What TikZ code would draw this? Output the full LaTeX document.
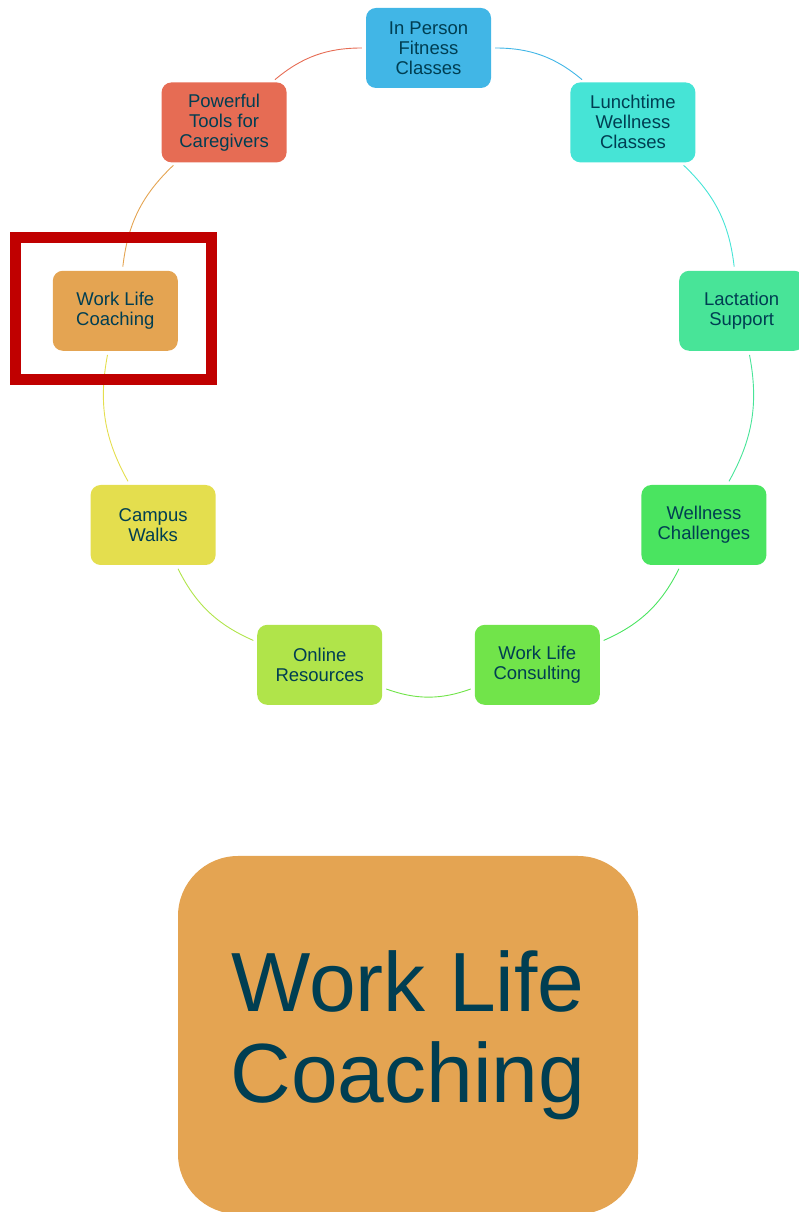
\documentclass[tikz,border=0pt]{standalone}
\usepackage{fontspec}
\setmainfont{Liberation Sans}
\usepackage{tikz}
\usetikzlibrary{arrows.meta,positioning}
\definecolor{cText}{RGB}{0,62,82}
\definecolor{cBlue}{RGB}{65,182,230}
\definecolor{cTurq}{RGB}{70,228,214}
\definecolor{cMint}{RGB}{72,228,152}
\definecolor{cGreen}{RGB}{74,228,96}
\definecolor{cLeaf}{RGB}{113,228,74}
\definecolor{cLime}{RGB}{176,228,74}
\definecolor{cYellow}{RGB}{228,222,78}
\definecolor{cOrange}{RGB}{228,164,82}
\definecolor{cRed}{RGB}{230,108,84}
\definecolor{cFrame}{RGB}{192,0,0}
\tikzset{
  item/.style={rounded corners=10pt, minimum width=125pt, minimum height=80pt, inner sep=2pt, align=center, text=cText, font=\fontsize{18.5}{20}\selectfont},
  link/.style={line width=0.9pt, shorten <=4pt, shorten >=4pt},
  bigitem/.style={rounded corners=60pt, minimum width=460pt, minimum height=358pt, align=center, text=cText, font=\fontsize{84}{91}\selectfont},
}

\begin{document}
\begin{tikzpicture}[x=1pt, y=1pt]
    \useasboundingbox (0,0) rectangle (799,1212);
    \coordinate (hub) at (428.5,846);

    \node[item, fill=cBlue] (fitness) at ([shift={(90:318)}]hub) {In Person\\Fitness\\Classes};
    \node[item, fill=cTurq] (lunch) at ([shift={(50:318)}]hub) {Lunchtime\\Wellness\\Classes};
    \node[item, fill=cMint] (lactation) at ([shift={(10:318)}]hub) {Lactation\\Support};
    \node[item, fill=cGreen] (challenges) at ([shift={(-30:318)}]hub) {Wellness\\Challenges};
    \node[item, fill=cLeaf] (consulting) at ([shift={(-70:318)}]hub) {Work Life\\Consulting};
    \node[item, fill=cLime] (online) at ([shift={(-110:318)}]hub) {Online\\Resources};
    \node[item, fill=cYellow] (walks) at ([shift={(-150:318)}]hub) {Campus\\Walks};
    \node[item, fill=cOrange] (coaching) at ([shift={(170:318)}]hub) {Work Life\\Coaching};
    \node[item, fill=cRed] (tools) at ([shift={(130:318)}]hub) {Powerful\\Tools for\\Caregivers};

    \draw[link, cBlue] (fitness) to[bend left=20] (lunch);
    \draw[link, cTurq] (lunch) to[bend left=20] (lactation);
    \draw[link, cMint] (lactation) to[bend left=20] (challenges);
    \draw[link, cGreen] (challenges) to[bend left=20] (consulting);
    \draw[link, cLeaf] (consulting) to[bend left=20] (online);
    \draw[link, cLime] (online) to[bend left=20] (walks);
    \draw[link, cYellow] (walks) to[bend left=20] (coaching);
    \draw[link, cOrange] (coaching) to[bend left=20] (tools);
    \draw[link, cRed] (tools) to[bend left=20] (fitness);

    % highlight round the current item
    \node[draw=cFrame, line width=11pt, minimum width=196pt, minimum height=142pt] (frame) at (113.5,903.5) {};

    \node[bigitem, fill=cOrange] (detail) at (408,177) {Work Life\\Coaching};
\end{tikzpicture}
\end{document}
